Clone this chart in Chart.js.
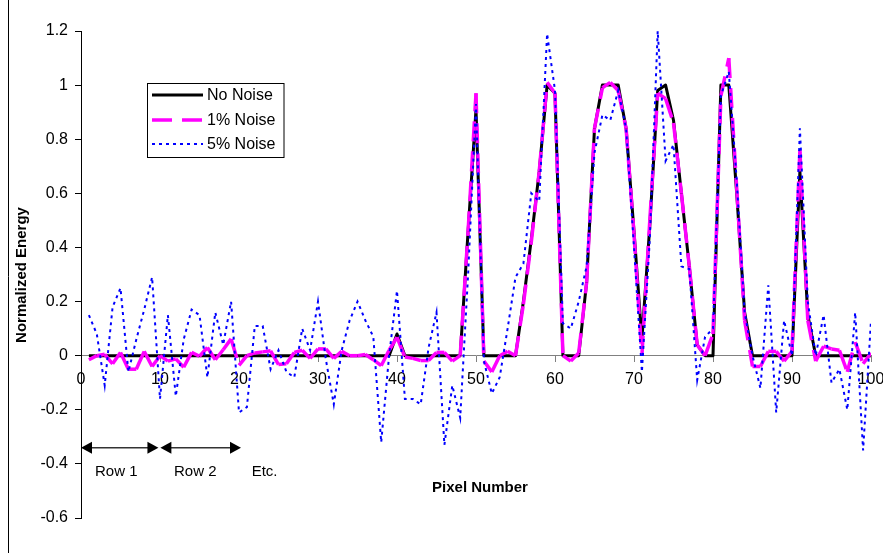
<!DOCTYPE html>
<html>
<head>
<meta charset="utf-8">
<title>Normalized Energy vs Pixel Number</title>
<script src="https://cdn.jsdelivr.net/npm/chart.js@4.4.1/dist/chart.umd.min.js"></script>
<style>
    html, body { margin: 0; padding: 0; background: #fff; }
    #chart { display: block; }
</style>
</head>
<body>
<canvas id="chart" width="883" height="553"></canvas>
<script>
// pixel numbers along the x axis
const pixelNumbers = Array.from({ length: 100 }, (_, i) => i + 1);

// series values
const noNoise = [
    0, 0, 0, 0, 0, 0, 0, 0, 0, 0,
    0, 0, 0, 0, 0, 0, 0, 0, 0, 0,
    0, 0, 0, 0, 0, 0, 0, 0, 0, 0,
    0, 0, 0, 0, 0, 0, 0, 0, 0, 0.08,
    0, 0, 0, 0, 0, 0, 0, 0, 0.46, 0.91,
    0, 0, 0, 0, 0, 0.2, 0.43, 0.68, 1.0, 0.97,
    0, 0, 0, 0.27, 0.84, 1.0, 1.0, 1.0, 0.84, 0.46,
    0.06, 0.48, 0.98, 1.0, 0.87, 0.6, 0.33, 0.04, 0, 0,
    1.0, 1.0, 0.6, 0.16, 0, 0, 0, 0, 0, 0,
    0.68, 0.15, 0, 0, 0, 0, 0, 0, 0, 0
];

const onePercentNoise = [
    -0.015, 0, 0.005, -0.03, 0.012, -0.05, -0.05, 0.016, -0.04, 0,
    -0.02, -0.012, -0.043, 0.012, -0.002, 0.03, -0.015, 0.022, 0.062, -0.036,
    0, 0.01, 0.014, 0.018, -0.033, -0.03, 0.012, 0.02, -0.01, 0.025,
    0.025, -0.01, 0.016, 0, 0, 0.004, -0.015, -0.037, 0.02, 0.068,
    -0.005, -0.01, -0.018, -0.018, 0.012, 0.012, -0.02, 0, 0.46, 0.97,
    -0.02, -0.06, 0, 0.016, 0, 0.19, 0.42, 0.68, 1.01, 0.97,
    0, -0.02, 0.01, 0.27, 0.84, 0.99, 1.01, 0.98, 0.84, 0.45,
    0, 0.5, 0.97, 0.95, 0.86, 0.6, 0.33, 0.04, 0, 0.08,
    0.96, 1.1, 0.62, 0.13, -0.04, -0.04, 0.016, 0.016, -0.02, 0.016,
    0.76, 0.13, -0.02, 0.035, 0.025, 0.02, -0.06, 0.05, -0.03, 0.01
];

const fivePercentNoise = [
    0.15, 0.08, -0.11, 0.18, 0.25, -0.06, 0.06, 0.17, 0.29, -0.16,
    0.15, -0.15, 0.06, 0.17, 0.15, -0.08, 0.16, 0.04, 0.2, -0.21,
    -0.19, 0.11, 0.11, -0.05, 0.02, -0.06, -0.08, 0.1, 0.02, 0.2,
    -0.015, -0.18, 0.02, 0.13, 0.2, 0.13, 0.07, -0.32, 0, 0.24,
    -0.16, -0.16, -0.18, 0.03, 0.16, -0.33, -0.11, -0.23, 0.3, 0.93,
    -0.02, -0.14, -0.08, 0.1, 0.29, 0.34, 0.6, 0.57, 1.19, 0.98,
    0.12, 0.1, 0.2, 0.33, 0.75, 0.89, 0.87, 0.98, 0.84, 0.4,
    -0.06, 0.43, 1.2, 0.72, 0.78, 0.33, 0.32, -0.09, 0.07, 0.1,
    0.96, 1.05, 0.65, 0.16, 0, -0.12, 0.26, -0.21, 0.13, 0,
    0.84, 0.2, 0, 0.15, -0.1, -0.05, -0.2, 0.16, -0.35, 0.13
];

// axis ticks
const xTicks = [0, 10, 20, 30, 40, 50, 60, 70, 80, 90, 100];
const yTicks = [-0.6, -0.4, -0.2, 0, 0.2, 0.4, 0.6, 0.8, 1, 1.2];

// row markers under the axis
const rowLabels = ['Row 1', 'Row 2', 'Etc.'];
const rowSpans = [[0, 9.8], [10.05, 20.25]];

const FONT = "'Liberation Sans', Arial, sans-serif";

function toPoints(values) {
    return values.map((v, i) => ({ x: pixelNumbers[i], y: v }));
}

// triangle arrow head, tip at (x, y)
function arrowHead(ctx, x, y, dir) {
    ctx.beginPath();
    ctx.moveTo(x, y);
    ctx.lineTo(x - dir * 11, y - 6);
    ctx.lineTo(x - dir * 11, y + 6);
    ctx.closePath();
    ctx.fill();
}

// extra drawing: frame, titles, legend box, row arrows
const decorations = {
    id: 'decorations',
    afterDraw(chart) {
        const ctx = chart.ctx;
        const xs = chart.scales.x;
        const ys = chart.scales.y;
        ctx.save();

        // outer frame line
        ctx.strokeStyle = '#000';
        ctx.lineWidth = 1;
        ctx.beginPath();
        ctx.moveTo(8.5, 0);
        ctx.lineTo(8.5, 553);
        ctx.stroke();

        // axis titles
        ctx.fillStyle = '#000';
        ctx.font = 'bold 15px ' + FONT;
        ctx.textAlign = 'center';
        ctx.textBaseline = 'middle';
        ctx.fillText('Pixel Number', 480, 488);
        ctx.save();
        ctx.translate(22, 275);
        ctx.rotate(-Math.PI / 2);
        ctx.fillText('Normalized Energy', 0, 0);
        ctx.restore();

        // row arrows
        const ay = ys.getPixelForValue(-0.34);
        ctx.strokeStyle = '#333';
        ctx.fillStyle = '#000';
        ctx.lineWidth = 1.5;
        rowSpans.forEach(([a, b]) => {
            const x1 = xs.getPixelForValue(a);
            const x2 = xs.getPixelForValue(b);
            ctx.beginPath();
            ctx.moveTo(x1 + 6, ay);
            ctx.lineTo(x2 - 6, ay);
            ctx.stroke();
            arrowHead(ctx, x1, ay, -1);
            arrowHead(ctx, x2, ay, 1);
        });
        ctx.font = '15px ' + FONT;
        ctx.textAlign = 'left';
        const ly = ys.getPixelForValue(-0.428);
        [1.77, 11.77, 21.6].forEach((xv, i) => {
            ctx.fillText(rowLabels[i], xs.getPixelForValue(xv), ly);
        });

        // legend
        ctx.lineWidth = 1;
        ctx.strokeStyle = '#000';
        ctx.fillStyle = '#fff';
        ctx.fillRect(147.5, 83.5, 136.5, 74);
        ctx.strokeRect(147.5, 83.5, 136.5, 74);
        ctx.font = '16px ' + FONT;
        ctx.textBaseline = 'middle';
        const rows = [95, 120, 144];
        chart.data.datasets.forEach((ds, i) => {
            const y = rows[i];
            ctx.save();
            ctx.strokeStyle = ds.borderColor;
            ctx.lineWidth = ds.borderWidth;
            ctx.setLineDash(ds.borderDash || []);
            ctx.beginPath();
            ctx.moveTo(152, y);
            ctx.lineTo(203, y);
            ctx.stroke();
            ctx.restore();
            ctx.fillStyle = '#000';
            ctx.fillText(ds.label, 207, y + 1);
        });

        ctx.restore();
    }
};

const ctx = document.getElementById('chart').getContext('2d');
const chart = new Chart(ctx, {
    type: 'line',
    data: {
        datasets: [
            {
                label: 'No Noise',
                data: toPoints(noNoise),
                borderColor: '#000000',
                borderWidth: 3,
                borderJoinStyle: 'round',
                pointRadius: 0,
                order: 3
            },
            {
                label: '1% Noise',
                data: toPoints(onePercentNoise),
                borderColor: '#ff00ff',
                borderWidth: 3.5,
                borderDash: [20, 10],
                borderJoinStyle: 'round',
                pointRadius: 0,
                order: 2,
                // restart the dash on every segment, like the original
                segment: {
                    borderDashOffset: c => (c.p0DataIndex % 2 ? 0.001 : 0)
                }
            },
            {
                label: '5% Noise',
                data: toPoints(fivePercentNoise),
                borderColor: '#0000ff',
                borderWidth: 2,
                borderDash: [3, 4],
                pointRadius: 0,
                order: 1
            }
        ]
    },
    options: {
        responsive: false,
        animation: false,
        devicePixelRatio: 1,
        layout: { padding: { left: 0, top: 31, right: 12, bottom: 35 } },
        plugins: {
            legend: { display: false },
            tooltip: { enabled: false }
        },
        scales: {
            x: {
                type: 'linear',
                position: { y: 0 },
                min: 0,
                max: 100,
                afterBuildTicks: s => { s.ticks = xTicks.map(v => ({ value: v })); },
                afterFit: s => { s.paddingLeft = 0; s.paddingRight = 0; },
                ticks: {
                    color: '#000',
                    font: { family: FONT, size: 16 },
                    padding: 8,
                    maxRotation: 0,
                    autoSkip: false
                },
                grid: { drawOnChartArea: false, color: '#808080', tickLength: 6 },
                border: { color: '#808080', width: 1 }
            },
            y: {
                min: -0.6,
                max: 1.2,
                afterBuildTicks: s => { s.ticks = yTicks.map(v => ({ value: v })); },
                afterFit: s => { s.width = 81; },
                ticks: {
                    color: '#000',
                    font: { family: FONT, size: 16 },
                    padding: 7,
                    autoSkip: false,
                    callback: v => String(Math.round(v * 10) / 10)
                },
                grid: { drawOnChartArea: false, color: '#000', tickLength: 6 },
                border: { color: '#000', width: 1 }
            }
        }
    },
    plugins: [decorations]
});
</script>
</body>
</html>
